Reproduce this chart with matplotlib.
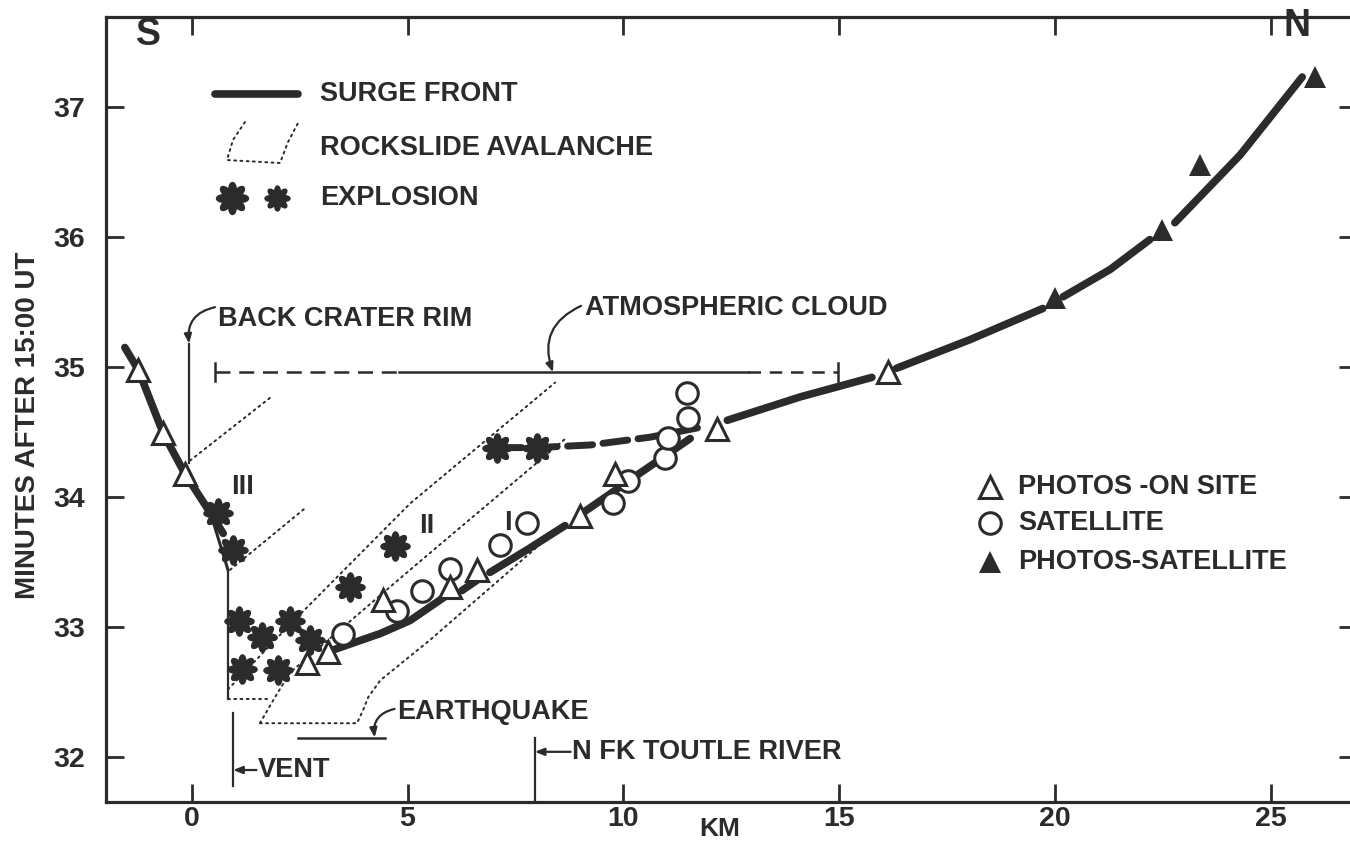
import numpy as np
import matplotlib
matplotlib.use("Agg")
import matplotlib.pyplot as plt
from matplotlib.path import Path

# ---------------- data ----------------
x_ticks = [0, 5, 10, 15, 20, 25]
y_ticks = [32, 33, 34, 35, 36, 37]

# surge front, southern branch (km, minutes after 15:00 UT)
surge_s_km = [-1.55, -1.24, -0.66, -0.16, 0.31, 0.73]
surge_s_min = [35.15, 34.98, 34.49, 34.18, 33.94, 33.72]
# thin continuation of the southern branch down to the vent
rim_tail_km = [0.45, 0.84]
rim_tail_min = [33.86, 33.44]

nan = np.nan
# surge front, northern branch (gaps where symbols interrupt it)
surge_n_km = [3.16, 4.37, 5.06, 5.94, nan, 6.26, 6.61, nan, 6.91, 7.80, 8.65, nan,
              9.07, 10.11, 11.55, nan, 12.41, 14.10, 15.76, nan, 16.33, 18.03, 19.72, nan,
              20.19, 21.28, 22.20, nan, 22.78, 24.29, 25.73]
surge_n_min = [32.81, 32.95, 33.05, 33.25, nan, 33.28, 33.36, nan, 33.42, 33.60, 33.78, nan,
               33.88, 34.12, 34.45, nan, 34.59, 34.77, 34.92, nan, 34.99, 35.21, 35.45, nan,
               35.54, 35.75, 35.98, nan, 36.11, 36.63, 37.23]

# dashed front leading from the late explosions
late_front_km = [7.07, 8.00, 9.23, 10.62, 11.85]
late_front_min = [34.38, 34.38, 34.40, 34.46, 34.54]

# observations
photo_site_km = [-1.24, -0.66, -0.16, 2.67, 3.16, 4.44, 5.99, 6.61, 9.00, 9.81, 12.17, 16.14]
photo_site_min = [34.98, 34.49, 34.18, 32.72, 32.81, 33.21, 33.31, 33.44, 33.85, 34.18, 34.52, 34.96]

satellite_km = [3.51, 4.75, 5.34, 5.99, 7.14, 7.77, 9.77, 10.12, 10.97, 11.04, 11.50, 11.47]
satellite_min = [32.95, 33.12, 33.28, 33.45, 33.63, 33.80, 33.95, 34.12, 34.30, 34.45, 34.61, 34.80]

photo_sat_km = [20.00, 22.48, 23.37, 26.03]
photo_sat_min = [35.53, 36.05, 36.55, 37.23]

explosion_km = [0.61, 0.96, 1.10, 1.63, 1.17, 2.00, 2.28, 2.74, 3.67, 4.71, 7.07, 8.00]
explosion_min = [33.88, 33.59, 33.05, 32.92, 32.68, 32.67, 33.05, 32.90, 33.31, 33.62, 34.38, 34.38]

# rockslide-avalanche outlines (dotted)
aval_3a_km, aval_3a_min = [-0.04, 1.88], [34.28, 34.78]
aval_3b_km, aval_3b_min = [0.89, 2.65], [33.44, 33.92]
aval_2a_km = [0.84, 2.28, 5.06, 8.42]
aval_2a_min = [32.52, 33.02, 33.95, 34.88]
aval_2b_km = [1.58, 1.93, 2.28, 5.06, 8.70]
aval_2b_min = [32.26, 32.46, 32.65, 33.44, 34.46]
aval_1_km = [1.58, 3.83, 3.97, 4.09, 4.37, 5.52, 8.54]
aval_1_min = [32.26, 32.26, 32.36, 32.46, 32.59, 32.90, 33.77]
vent_floor_km, vent_floor_min = [0.84, 1.75], [32.45, 32.45]

# reference features
vent_wall_km, vent_wall_min = [0.84, 0.84], [33.44, 32.45]
crater_rim_km, crater_rim_min = -0.06, (35.18, 34.26)
vent_km, vent_min = 0.96, (32.34, 31.78)
toutle_km, toutle_min = 7.95, (31.654, 32.15)
quake_min, quake_km = 32.15, (2.47, 4.48)
cloud_min = 34.96
cloud_dash1_km = (0.54, 4.8)
cloud_solid_km = (4.8, 12.9)
cloud_dash2_km = (12.9, 14.98)

# ---------------- style ----------------
INK = "#2b2b2b"
plt.rcParams["font.family"] = ["Liberation Sans", "DejaVu Sans"]
plt.rcParams["font.weight"] = "bold"
plt.rcParams["text.color"] = INK

# eight-lobed burst symbol for explosions
theta = np.linspace(0, 2 * np.pi, 481)
rad = 0.68 + 0.32 * np.abs(np.cos(4 * theta))
burst = Path(np.column_stack([rad * np.cos(theta), rad * np.sin(theta)]), closed=True)

fig = plt.figure(figsize=(13.5, 8.43), dpi=100)
ax = fig.add_axes([106 / 1350, 41 / 843, 1251 / 1350, 785 / 843])
ax.set_xlim(-1.986, 27.0)
ax.set_ylim(31.654, 37.692)

for s in ax.spines.values():
    s.set_linewidth(2.3)
    s.set_color(INK)
ax.set_xticks(x_ticks)
ax.set_yticks(y_ticks)
ax.tick_params(direction="in", length=13, width=2, color=INK, top=True, right=True,
               labelsize=20.5, labelcolor=INK)
ax.tick_params(axis="x", pad=3)
ax.tick_params(axis="y", pad=15)
for lab in ax.get_xticklabels() + ax.get_yticklabels():
    lab.set_fontweight("bold")

ax.set_ylabel("MINUTES AFTER 15:00 UT", fontsize=20, fontweight="bold", color=INK)
ax.yaxis.set_label_coords(-0.052, 0.48)
ax.text(12.24, -0.035, "KM", transform=ax.get_xaxis_transform(), ha="center",
        va="center", fontsize=19, fontweight="bold")

# avalanche outlines
dot = dict(color=INK, lw=1.4, linestyle=(0, (1, 2.2)), dash_capstyle="round")
for xs, ys in [(aval_3a_km, aval_3a_min), (aval_3b_km, aval_3b_min),
               (aval_2a_km, aval_2a_min), (aval_2b_km, aval_2b_min),
               (aval_1_km, aval_1_min), (vent_floor_km, vent_floor_min)]:
    ax.plot(xs, ys, **dot)

# reference lines
ax.plot(vent_wall_km, vent_wall_min, color=INK, lw=1.6)
ax.plot([crater_rim_km] * 2, crater_rim_min, color=INK, lw=1.6)
ax.plot([vent_km] * 2, vent_min, color=INK, lw=1.6)
ax.plot([toutle_km] * 2, toutle_min, color=INK, lw=1.6)
ax.plot(quake_km, [quake_min] * 2, color=INK, lw=1.8)

ax.plot(cloud_dash1_km, [cloud_min] * 2, color=INK, lw=1.8, linestyle=(0, (6, 3.5)))
ax.plot(cloud_solid_km, [cloud_min] * 2, color=INK, lw=1.8)
ax.plot(cloud_dash2_km, [cloud_min] * 2, color=INK, lw=1.8, linestyle=(0, (5, 3.5)))
for xe in (cloud_dash1_km[0], cloud_dash2_km[1]):
    ax.plot([xe, xe], [cloud_min - 0.07, cloud_min + 0.07], color=INK, lw=1.8)

# surge fronts
ax.plot(surge_s_km, surge_s_min, color=INK, lw=5.5, solid_capstyle="round")
ax.plot(rim_tail_km, rim_tail_min, color=INK, lw=2.2)
ax.plot(surge_n_km, surge_n_min, color=INK, lw=5.5, solid_capstyle="round")
ax.plot(late_front_km, late_front_min, color=INK, lw=5.0, linestyle=(0, (3.6, 1.5)),
        dash_capstyle="round")

# observations
ax.plot(explosion_km, explosion_min, ls="none", marker=burst, ms=22, color=INK, mew=0)
ax.plot(satellite_km, satellite_min, ls="none", marker="o", ms=15.5, mfc="white",
        mec=INK, mew=2.2)
ax.plot(photo_site_km, photo_site_min, ls="none", marker="^", ms=15.5, mfc="white",
        mec=INK, mew=2.2)
ax.plot(photo_sat_km, photo_sat_min, ls="none", marker="^", ms=16, color=INK, mew=0)

# labels with arrows
arrow = dict(arrowstyle="-|>,head_length=0.55,head_width=0.22", lw=1.6, color=INK,
             shrinkA=0, shrinkB=0)
fs = 19.5
ax.text(0.62, 35.37, "BACK CRATER RIM", fontsize=fs, va="center", ha="left")
ax.annotate("", xy=(crater_rim_km, crater_rim_min[0]), xytext=(0.54, 35.46),
            arrowprops=dict(arrow, connectionstyle="arc3,rad=0.45"))
ax.text(9.11, 35.45, "ATMOSPHERIC CLOUD", fontsize=fs, va="center", ha="left")
ax.annotate("", xy=(8.37, cloud_min), xytext=(9.02, 35.47),
            arrowprops=dict(arrow, connectionstyle="arc3,rad=0.45"))
ax.text(4.76, 32.35, "EARTHQUAKE", fontsize=fs, va="center", ha="left")
ax.annotate("", xy=(4.24, quake_min), xytext=(4.70, 32.37),
            arrowprops=dict(arrow, connectionstyle="arc3,rad=0.45"))
ax.text(1.52, 31.9, "VENT", fontsize=fs, va="center", ha="left")
ax.annotate("", xy=(vent_km, 31.9), xytext=(1.5, 31.9), arrowprops=arrow)
ax.text(8.81, 32.04, "N FK TOUTLE RIVER", fontsize=fs, va="center", ha="left")
ax.annotate("", xy=(toutle_km, 32.04), xytext=(8.78, 32.04), arrowprops=arrow)

ax.text(1.17, 34.08, "III", fontsize=fs, ha="center", va="center")
ax.text(5.45, 33.78, "II", fontsize=fs, ha="center", va="center")
ax.text(7.33, 33.80, "I", fontsize=fs, ha="center", va="center")
ax.text(-1.01, 37.55, "S", fontsize=27, ha="center", va="center")
ax.text(25.6, 37.62, "N", fontsize=27, ha="center", va="center")

# key, upper left
T = ax.transAxes
ax.plot([0.0871, 0.1535], [0.902, 0.902], transform=T, color=INK, lw=5.5,
        solid_capstyle="round")
ax.plot([0.1111, 0.1015, 0.0967, 0.1391, 0.1455, 0.1535],
        [0.8662, 0.8433, 0.8178, 0.8140, 0.8408, 0.8650], transform=T, **dot)
ax.plot([0.1007], [0.7694], transform=T, marker=burst, ms=24, color=INK, mew=0)
ax.plot([0.1367], [0.7694], transform=T, marker=burst, ms=19, color=INK, mew=0)
for yk, txt in [(0.902, "SURGE FRONT"), (0.8331, "ROCKSLIDE AVALANCHE"),
                (0.7694, "EXPLOSION")]:
    ax.text(0.1711, yk, txt, transform=T, fontsize=fs, va="center", ha="left")

# key, right
ax.plot([0.7066], [0.4013], transform=T, marker="^", ms=15.5, mfc="white", mec=INK, mew=2.2)
ax.plot([0.7066], [0.3554], transform=T, marker="o", ms=15.5, mfc="white", mec=INK, mew=2.2)
ax.plot([0.7066], [0.3057], transform=T, marker="^", ms=16, color=INK, mew=0)
for yk, txt in [(0.4013, "PHOTOS -ON SITE"), (0.3554, "SATELLITE"),
                (0.3057, "PHOTOS-SATELLITE")]:
    ax.text(0.729, yk, txt, transform=T, fontsize=fs, va="center", ha="left")

fig.savefig("out.png", dpi=100, facecolor="white")
